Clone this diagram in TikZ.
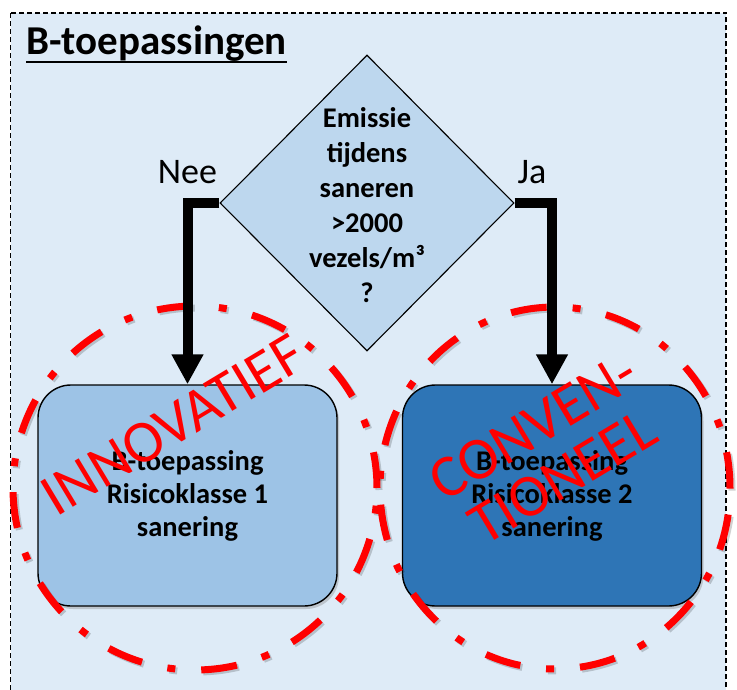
\documentclass[tikz,border=0pt]{standalone}
\usepackage{fontspec}
\setmainfont{Carlito}
\usetikzlibrary{shapes.geometric,arrows.meta,shadows}
\definecolor{bgblue}{HTML}{DEEBF7}
\definecolor{diafill}{HTML}{BDD7EE}
\definecolor{boxlight}{HTML}{9DC3E6}
\definecolor{boxdark}{HTML}{2E75B6}
\definecolor{ringred}{HTML}{FF0000}
\tikzset{
  frame/.style={draw=black, fill=bgblue, line width=1.3pt, dash pattern=on 5pt off 3pt},
  decision/.style={diamond, draw=black, line width=1.1pt, fill=diafill, inner sep=0pt,
    minimum width=294pt, minimum height=296pt},
  qtext/.style={align=center, font=\bfseries\fontsize{28.5}{35}\selectfont},
  resultbox/.style={draw=black, line width=1.4pt, rounded corners=33pt,
    minimum width=299pt, minimum height=221pt, align=center,
    font=\bfseries\fontsize{28.5}{33}\selectfont,
    drop shadow={shadow xshift=2pt, shadow yshift=-3pt, opacity=0.35}},
  ring/.style={draw=ringred, line width=7pt, dash pattern=on 36pt off 26pt on 8pt off 26pt},
  ringshadow/.style={draw=black, opacity=0.18, line width=7pt, dash pattern=on 36pt off 26pt on 8pt off 26pt},
  redtxt/.style={text=ringred, font=\fontsize{60}{58}\selectfont, align=center, inner sep=0pt},
  lbl/.style={font=\fontsize{36}{36}\selectfont, inner sep=0pt, anchor=base},
  flowarrow/.style={draw=black, line width=10pt, line join=miter,
    -{Triangle[width=30pt,length=30pt]}},
}
\begin{document}
\begin{tikzpicture}[x=1pt,y=-1pt]
\useasboundingbox (0,0) rectangle (737,690);
\fill[white] (0,0) rectangle (737,690);
\path[frame] (10.5,13) rectangle (726,712);

% title
\node[anchor=base west, inner sep=0pt, font=\bfseries\fontsize{41}{41}\selectfont] (title) at (26,55) {B-toepassingen};
\draw[line width=2.4pt] ([yshift=-7pt]title.base west) -- ([yshift=-7pt]title.base east);

% decision
\node[decision] (dia) at (367,203) {};
\node[qtext] (q) at (367,205) {Emissie\\tijdens\\saneren\\>2000\\vezels/m³\\?};

% result boxes
\node[resultbox, fill=boxlight] (b1) at (187.5,495.5) {B-toepassing\\Risicoklasse 1\\sanering};
\node[resultbox, fill=boxdark] (b2) at (552,495.5) {B-toepassing\\Risicoklasse 2\\sanering};

% red dash-dot rings
\draw[ringshadow] (197,490) ellipse [x radius=182pt, y radius=182pt];
\draw[ring] (195,488) ellipse [x radius=182pt, y radius=182pt];
\draw[ringshadow] (557,490) ellipse [x radius=175pt, y radius=181pt];
\draw[ring] (555,488) ellipse [x radius=175pt, y radius=181pt];

% red stamps
\node[redtxt, rotate=31] (inno) at (173,425) {INNOVATIEF};
\node[redtxt, rotate=31] (conv) at (548,452) {CONVEN-\\TIONEEL};

% labels
\node[lbl] (nee) at (187.5,184) {Nee};
\node[lbl] (ja) at (532,184) {Ja};

% arrows
\draw[flowarrow] (dia.west) -| (b1.north);
\draw[flowarrow] (dia.east) -| (b2.north);
\end{tikzpicture}
\end{document}
